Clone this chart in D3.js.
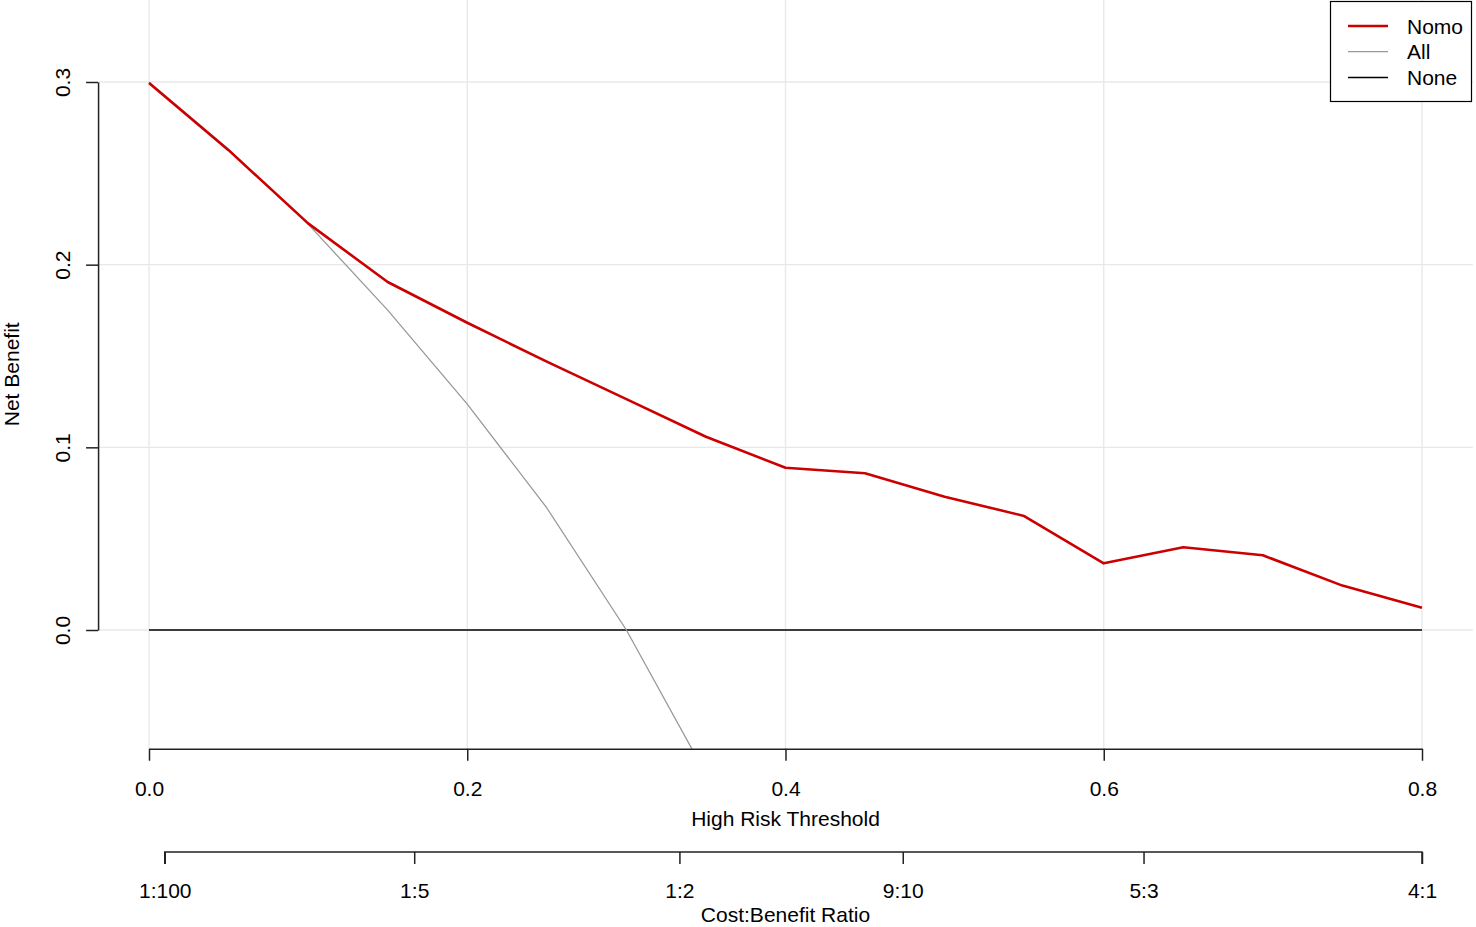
<!DOCTYPE html>
<html>
<head>
<meta charset="utf-8">
<script src="https://cdn.jsdelivr.net/npm/d3@7"></script>
<style>
  body { margin: 0; background: #fff; }
  svg text { font-family: "Liberation Sans", Arial, sans-serif; fill: #000; }
</style>
</head>
<body>
<div id="dca"></div>
<script>
// threshold grid and net benefit
var thresholds = [0, 0.05, 0.10, 0.15, 0.20, 0.25, 0.30, 0.35, 0.40, 0.45, 0.50, 0.55, 0.60, 0.65, 0.70, 0.75, 0.80];
var nomoBenefit = [0.2995, 0.2627, 0.2226, 0.1905, 0.1682, 0.1469, 0.1264, 0.1058, 0.0888, 0.0858, 0.0730, 0.0624, 0.0365, 0.0453, 0.0409, 0.0243, 0.0122];
var allThresholds = [0, 0.05, 0.10, 0.15, 0.20, 0.25, 0.30, 0.35];
var allBenefit = [0.300, 0.2632, 0.2222, 0.1751, 0.1237, 0.0668, 0.0, -0.079];
var noneThresholds = [0, 0.8];
var noneBenefit = [0, 0];

var xTicks = [0, 0.2, 0.4, 0.6, 0.8];
var yTicks = [0, 0.1, 0.2, 0.3];
var costBenefit = ["1:100", "1:5", "1:2", "9:10", "5:3", "4:1"];

var legendNames = ["Nomo", "All", "None"];
var legendColors = ["#cc0000", "#999999", "#000000"];
var legendWidths = [2.6, 1.3, 1.5];

var width = 1476, height = 927;

var x = d3.scaleLinear().domain([0, 0.8]).range([149, 1422]);
var y = d3.scaleLinear().domain([0, 0.3]).range([630, 82]);

// plot region (R style 4% extension)
var px0 = x(-0.032), px1 = x(0.832);
var py0 = y(0.345), py1 = y(-0.065);

var svg = d3.select("#dca").append("svg")
  .attr("width", width)
  .attr("height", height);

svg.append("defs").append("clipPath")
  .attr("id", "plotclip")
  .append("rect")
  .attr("x", px0).attr("y", py0)
  .attr("width", px1 - px0).attr("height", py1 - py0);

// grid
var grid = svg.append("g").attr("clip-path", "url(#plotclip)");
grid.selectAll(".vgrid")
  .data(xTicks)
  .enter().append("line")
  .attr("x1", function (d) { return x(d); })
  .attr("x2", function (d) { return x(d); })
  .attr("y1", py0).attr("y2", py1)
  .attr("stroke", "#e8e8e8").attr("stroke-width", 1.4);
grid.selectAll(".hgrid")
  .data(yTicks)
  .enter().append("line")
  .attr("x1", px0).attr("x2", px1)
  .attr("y1", function (d) { return y(d); })
  .attr("y2", function (d) { return y(d); })
  .attr("stroke", "#e8e8e8").attr("stroke-width", 1.4);

// lines
var line = d3.line()
  .x(function (d) { return x(d[0]); })
  .y(function (d) { return y(d[1]); });

var lines = svg.append("g").attr("clip-path", "url(#plotclip)");
lines.append("path")
  .datum(d3.zip(noneThresholds, noneBenefit))
  .attr("d", line).attr("fill", "none")
  .attr("stroke", legendColors[2]).attr("stroke-width", legendWidths[2]);
lines.append("path")
  .datum(d3.zip(allThresholds, allBenefit))
  .attr("d", line).attr("fill", "none")
  .attr("stroke", legendColors[1]).attr("stroke-width", legendWidths[1]);
lines.append("path")
  .datum(d3.zip(thresholds, nomoBenefit))
  .attr("d", line).attr("fill", "none")
  .attr("stroke", legendColors[0]).attr("stroke-width", legendWidths[0])
  .attr("stroke-linejoin", "round");

// axes
var fmt = d3.format(".1f");
var yAxis = d3.axisLeft(y).tickValues(yTicks).tickFormat(fmt).tickSize(12).tickSizeOuter(0);
var xAxis = d3.axisBottom(x).tickValues(xTicks).tickFormat(fmt).tickSize(12).tickSizeOuter(0).tickPadding(20);

function styleAxis(g) {
  g.select(".domain").attr("stroke", "#222").attr("stroke-width", 1.5);
  g.selectAll(".tick line").attr("stroke", "#222").attr("stroke-width", 1.5);
  g.selectAll(".tick text").style("font-size", "21px").attr("fill", "#000");
}

svg.append("g")
  .attr("transform", "translate(" + px0 + ",0)")
  .call(yAxis)
  .call(styleAxis)
  .call(function (g) {
    g.selectAll(".tick text")
      .attr("x", 0).attr("dy", 0)
      .attr("text-anchor", "middle")
      .attr("transform", "translate(-28,0) rotate(-90)");
  });

svg.append("g")
  .attr("transform", "translate(0," + py1 + ")")
  .call(xAxis)
  .call(styleAxis);

// cost:benefit axis
function ratioToThreshold(s) {
  var p = s.split(":").map(Number);
  return p[0] / (p[0] + p[1]);
}
var cbAxis = d3.axisBottom(x)
  .tickValues(costBenefit.map(ratioToThreshold))
  .tickFormat(function (d, i) { return costBenefit[i]; })
  .tickSize(12).tickSizeOuter(0).tickPadding(19);

var cbG = svg.append("g")
  .attr("transform", "translate(0,852)")
  .call(cbAxis)
  .call(styleAxis);
cbG.select(".domain")
  .attr("d", "M" + x(ratioToThreshold(costBenefit[0])) + ",12V0H" + x(ratioToThreshold(costBenefit[costBenefit.length - 1])) + "V12");

// titles
svg.append("text")
  .attr("x", (px0 + px1) / 2).attr("y", 826)
  .attr("text-anchor", "middle")
  .style("font-size", "21px")
  .text("High Risk Threshold");
svg.append("text")
  .attr("x", (px0 + px1) / 2).attr("y", 922)
  .attr("text-anchor", "middle")
  .style("font-size", "21px")
  .text("Cost:Benefit Ratio");
svg.append("text")
  .attr("transform", "translate(19," + ((py0 + py1) / 2) + ") rotate(-90)")
  .attr("text-anchor", "middle")
  .style("font-size", "21px")
  .text("Net Benefit");

// legend
var legend = svg.append("g");
legend.append("rect")
  .attr("x", 1330.5).attr("y", 1.5)
  .attr("width", 141).attr("height", 100)
  .attr("fill", "#fff").attr("stroke", "#000").attr("stroke-width", 1.2);
var items = legend.selectAll(".item")
  .data(legendNames)
  .enter().append("g")
  .attr("transform", function (d, i) { return "translate(0," + (26 + i * 25.7) + ")"; });
items.append("line")
  .attr("x1", 1348).attr("x2", 1388)
  .attr("stroke", function (d, i) { return legendColors[i]; })
  .attr("stroke-width", function (d, i) { return legendWidths[i]; });
items.append("text")
  .attr("x", 1407).attr("dy", "0.36em")
  .style("font-size", "21px")
  .text(function (d) { return d; });
</script>
</body>
</html>
